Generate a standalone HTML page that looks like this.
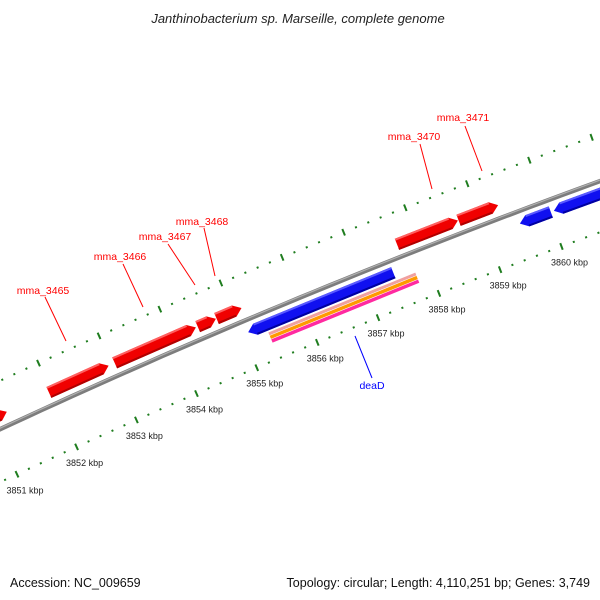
<!DOCTYPE html>
<html><head><meta charset="utf-8">
<style>
html,body{margin:0;padding:0;background:#fff;}
svg{display:block;font-family:"Liberation Sans","DejaVu Sans",sans-serif;}
</style></head>
<body>
<svg id="map" width="600" height="600" viewBox="0 0 600 600">
<rect width="600" height="600" fill="#fff"/>
<text x="298" y="23" text-anchor="middle" font-size="13" font-style="italic" fill="#222">Janthinobacterium sp. Marseille, complete genome</text>
<text x="10" y="587" font-size="12.5" fill="#111">Accession: NC_009659</text>
<text x="590" y="587" text-anchor="end" font-size="12.5" fill="#111">Topology: circular; Length: 4,110,251 bp; Genes: 3,749</text>
<g id="layer"></g>
</svg>
<script>
// data (kbp)
const majorTicks = [3851,3852,3853,3854,3855,3856,3857,3858,3859,3860];
const fwdStarts = [3849.8,3851.96,3853.05,3854.42,3854.73,3857.68,3858.68];
const fwdEnds   = [3851.26,3852.95,3854.39,3854.72,3855.14,3858.67,3859.32];
const fwdNames  = ['gene-partial','mma_3465','mma_3466','mma_3467','mma_3468','mma_3470','mma_3471'];
const revStarts = [3855.09,3859.53,3860.08];
const revEnds   = [3857.47,3860.03,3861.2];
const revNames  = ['deaD','gene-rev-2','gene-rev-3'];
const featStart = 3855.37, featEnd = 3857.78;

// geometry
const M=[287,355], t0=[0.9225,-0.386], n0=[0.386,0.9225], L=65.6, R=7500;
const C=[M[0]+R*n0[0], M[1]+R*n0[1]];
function P(k,d){const s=(k-3855.5)*L, f=s/R, r=R+d;
  return [C[0]+r*(-n0[0]*Math.cos(f)+t0[0]*Math.sin(f)), C[1]+r*(-n0[1]*Math.cos(f)+t0[1]*Math.sin(f))];}
const NS='http://www.w3.org/2000/svg', layer=document.getElementById('layer');
function mk(tag,attrs){const e=document.createElementNS(NS,tag);for(const a in attrs)e.setAttribute(a,attrs[a]);layer.appendChild(e);return e;}
function pts(a){return a.map(p=>p[0].toFixed(1)+','+p[1].toFixed(1)).join(' ');}

// backbone
let bb=[];for(let k=3849.5;k<=3862;k+=0.25)bb.push(P(k,48));
let e=mk('polyline',{points:pts(bb),fill:'none',stroke:'#7d7d7d','stroke-width':4.5});


let bb2=[];for(let k=3849.5;k<=3862;k+=0.25)bb2.push(P(k,49));
e=mk('polyline',{points:pts(bb2),fill:'none',stroke:'#b0b0b0','stroke-width':1.2});



// tick rings
[0,92].forEach((d,ri)=>{
  for(let i=0;i<=60;i++){const k=3850+i*0.2; if(k<3849.9||k>3861.6)continue;
    const major=Math.abs(k-Math.round(k))<0.01;
    const a=P(k,d-(major?3.5:1)), b=P(k,d+(major?3.5:1));
    e=mk('line',{x1:a[0],y1:a[1],x2:b[0],y2:b[1],stroke:'#1f7d1f','stroke-width':2});
    
    
  }
});
majorTicks.forEach(k=>{const p=P(k,0);
  e=mk('text',{x:p[0]+8,y:p[1]+19,'font-size':9,'text-anchor':'middle',fill:'#222'});
  e.textContent=k+' kbp';
  
  
});

// genes
function gene(k1,k2,d1,d2,dir,fill,dark,light,name){
  const h=0.12, m=(d1+d2)/2; let poly;
  if(dir>0) poly=[P(k1,d1),P(k2-h,d1),P(k2,m),P(k2-h,d2),P(k1,d2)];
  else poly=[P(k2,d1),P(k1+h,d1),P(k1,m),P(k1+h,d2),P(k2,d2)];
  const g=mk('polygon',{points:pts(poly),fill:fill});
  
  
  let s=mk('polyline',{points:pts(dir>0?[P(k1,d2-1),P(k2-h,d2-1)]:[P(k1+h,d2-1),P(k2,d2-1)]),stroke:light,'stroke-width':2,fill:'none'});
  
  
  s=mk('polyline',{points:pts(dir>0?[P(k1,d1+1),P(k2-h,d1+1)]:[P(k1+h,d1+1),P(k2,d1+1)]),stroke:dark,'stroke-width':2,fill:'none'});
  
  
}
fwdStarts.forEach((s,i)=>gene(s,fwdEnds[i],55,67,1,'#f00000','#b00000','#ff6060',fwdNames[i]));
revStarts.forEach((s,i)=>gene(s,revEnds[i],30,42,-1,'#1010f0','#0000a0','#5a5aff',revNames[i]));

// feature stripes
[['#f0a0a0',25,28],['#ff9900',21,24.5],['#ff2aa0',17,20.5]].forEach((c,i)=>{
  e=mk('polygon',{points:pts([P(featStart,c[1]),P(featEnd,c[1]),P(featEnd,c[2]),P(featStart,c[2])]),fill:c[0]});
  
  
});

// labels
const labels=[['mma_3465',43,294,45,297,66,341,'#f00'],['mma_3466',120,260,123,264,143,307,'#f00'],['mma_3467',165,240,168,244,195,285,'#f00'],
['mma_3468',202,225,204,228,215,276,'#f00'],['mma_3470',414,140,420,144,432,189,'#f00'],['mma_3471',463,121,465,126,482,171,'#f00'],['deaD',372,389,355,336,372,378,'#00f']];
labels.forEach(l=>{
  e=mk('line',{x1:l[3],y1:l[4],x2:l[5],y2:l[6],stroke:l[7],'stroke-width':1});
  
  
  e=mk('text',{x:l[1],y:l[2],'text-anchor':'middle','font-size':10.5,fill:l[7]});
  e.textContent=l[0];
  
  
});
</script>
</body></html>
